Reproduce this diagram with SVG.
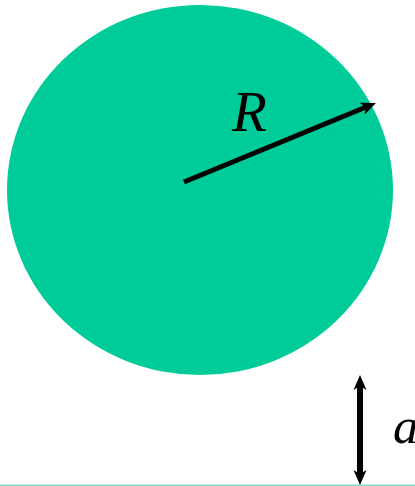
<svg xmlns="http://www.w3.org/2000/svg" width="415" height="486" viewBox="0 0 415 486">
<defs>
<style>
.shape{fill:#00CC99;stroke:none}
.conn{stroke:#000;stroke-width:5;fill:none;stroke-linecap:butt}
.thick{stroke-width:6}
.lbl{font-family:"Liberation Serif","Times New Roman",serif;font-style:italic;fill:#000}
.base{stroke:#7fd8c0;stroke-width:1.5}
</style>
<marker id="ah" viewBox="-8 -8 24 16" refX="0" refY="0" markerWidth="24" markerHeight="16" markerUnits="userSpaceOnUse" orient="auto-start-reverse">
<path d="M10,0 L-5,-6.5 L-1,0 L-5,6.5 Z" fill="#000"/>
</marker>
</defs>
<rect width="415" height="486" fill="#fff"/>
<g id="circle">
<ellipse class="shape" cx="200" cy="190" rx="193" ry="185"/>
</g>
<g id="baseline">
<line class="base" x1="0" y1="485.3" x2="415" y2="485.3"/>
</g>
<g id="labels">
<text class="lbl" x="232" y="131" font-size="57">R</text>
<text class="lbl" x="393" y="443" font-size="51">a</text>
</g>
<g id="connectors">
<line class="conn" x1="184" y1="182" x2="366.7" y2="106.8" marker-end="url(#ah)"/>
<line class="conn thick" x1="360" y1="385" x2="360" y2="475" marker-start="url(#ah)" marker-end="url(#ah)"/>
</g>
</svg>
